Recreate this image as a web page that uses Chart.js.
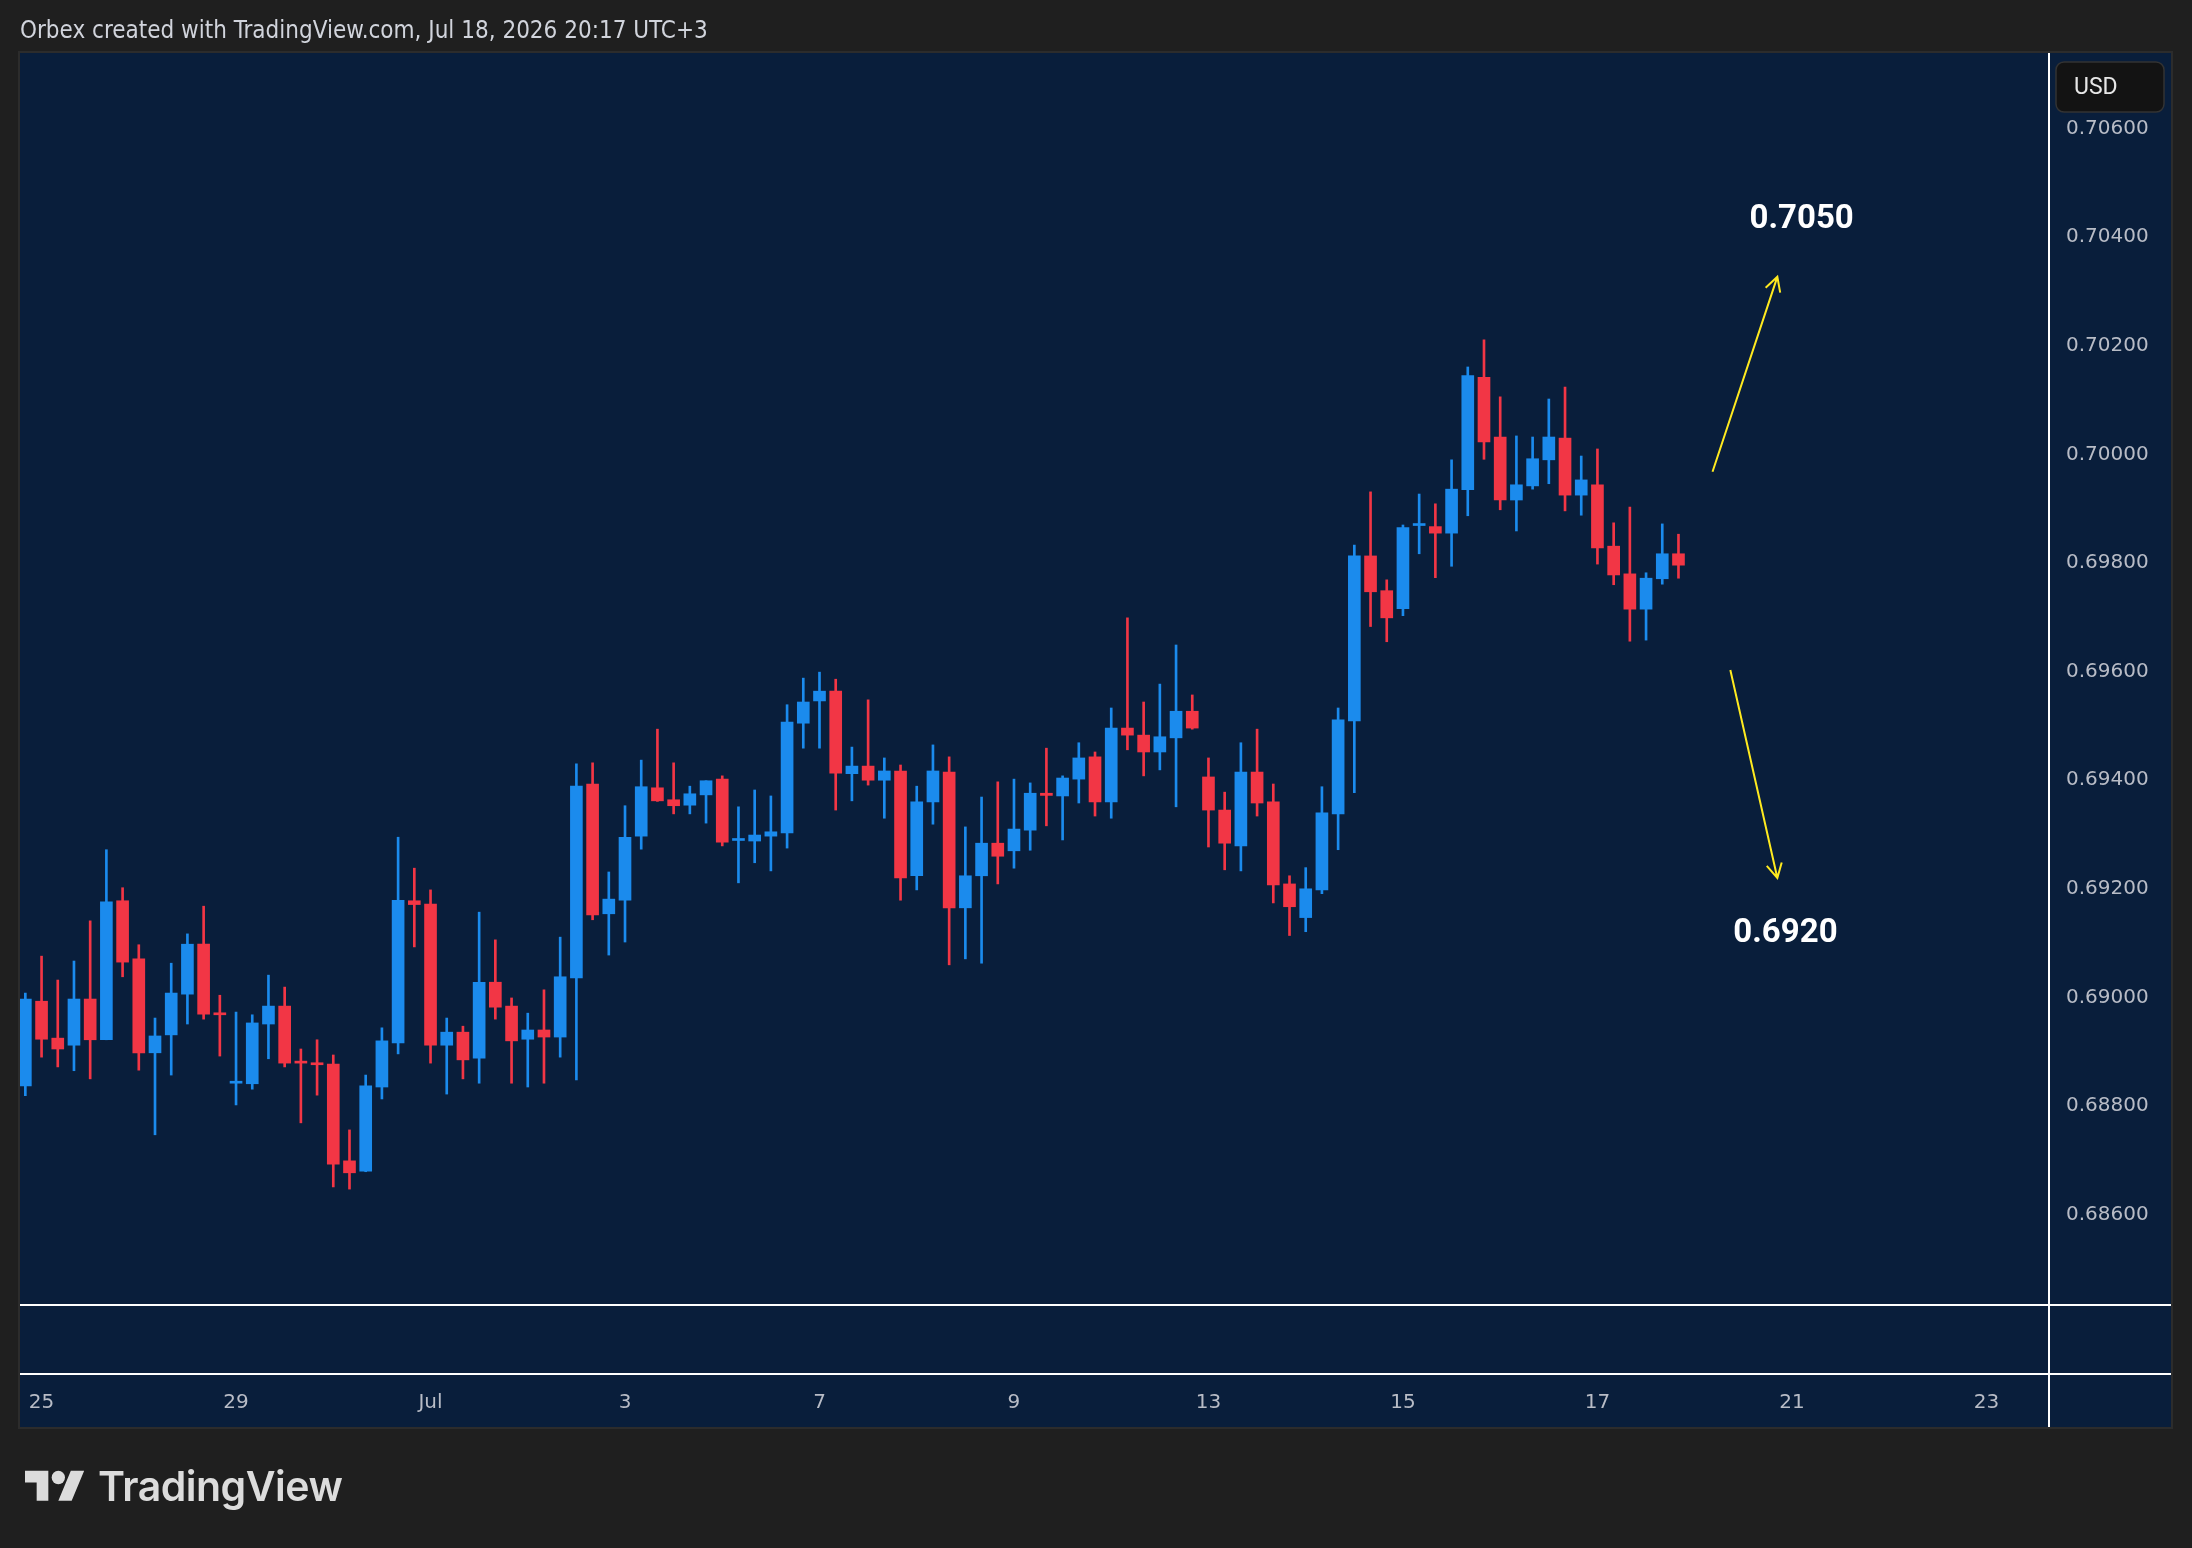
<!DOCTYPE html>
<html>
<head>
<meta charset="utf-8">
<title>4H candles</title>
<script src="https://cdn.jsdelivr.net/npm/chart.js@4.4.1/dist/chart.umd.min.js"></script>
<style>
  html, body { margin: 0; padding: 0; background: #1f1f1f; }
  body { width: 2192px; height: 1548px; position: relative; overflow: hidden; }
  #chart { position: absolute; left: 0; top: 0; z-index: 0; }
  .title { position: absolute; z-index: 1; left: 20px; top: 16px; line-height: 24px;
           font: 24px 'DejaVu Sans Condensed', 'DejaVu Sans', sans-serif; color: #d1d4dc; white-space: nowrap; }
  .logo-icon { position: absolute; z-index: 1; left: 25px; top: 1464px; }
  .logo-text { position: absolute; z-index: 1; left: 98px; top: 1461px; line-height: 41px;
               font: 600 41px Inter, sans-serif; color: #dcdcdc; letter-spacing: -0.5px; }
</style>
</head>
<body>
<canvas id="chart" width="2192" height="1548"></canvas>
<div class="title">Orbex created with TradingView.com, Jul 18, 2026 20:17 UTC+3</div>
<svg class="logo-icon" width="60" height="47" viewBox="0 0 36 28">
  <path fill="#dcdcdc" d="M14 22H7V11H0V4h14v18zM28 22h-8l7.5-18h8L28 22z"/>
  <circle fill="#dcdcdc" cx="20" cy="8" r="4"/>
</svg>
<div class="logo-text">TradingView</div>

<script>
/* 4H candles, index 0 = last bar of Jun 24 */
const OPEN = [
  0.68837, 0.68993, 0.68925, 0.68912, 0.68997, 0.68922, 0.69178, 0.69071, 0.68898, 0.68931,
  0.69006, 0.69098, 0.68971, 0.68842, 0.68841, 0.68951, 0.68984, 0.68881, 0.68879, 0.68877,
  0.68699, 0.68680, 0.68835, 0.68916, 0.69178, 0.69172, 0.68912, 0.68936, 0.68888, 0.69028,
  0.68984, 0.68923, 0.68940, 0.68927, 0.69036, 0.69393, 0.69154, 0.69179, 0.69297, 0.69386,
  0.69364, 0.69354, 0.69373, 0.69402, 0.69289, 0.69288, 0.69297, 0.69303, 0.69505, 0.69546,
  0.69564, 0.69412, 0.69426, 0.69400, 0.69417, 0.69224, 0.69360, 0.69415, 0.69165, 0.69224,
  0.69284, 0.69270, 0.69308, 0.69376, 0.69371, 0.69402, 0.69443, 0.69360, 0.69496, 0.69483,
  0.69452, 0.69478, 0.69527, 0.69406, 0.69345, 0.69279, 0.69415, 0.69360, 0.69209, 0.69147,
  0.69198, 0.69338, 0.69509, 0.69813, 0.69749, 0.69716, 0.69869, 0.69867, 0.69855, 0.69935,
  0.70142, 0.70032, 0.69916, 0.69942, 0.69990, 0.70030, 0.69925, 0.69944, 0.69831, 0.69780,
  0.69715, 0.69771, 0.69817
];
const HIGH = [
  0.69008, 0.69076, 0.69032, 0.69067, 0.69141, 0.69272, 0.69202, 0.69097, 0.68962, 0.69063,
  0.69117, 0.69168, 0.69004, 0.68973, 0.68968, 0.69041, 0.69019, 0.68905, 0.68922, 0.68894,
  0.68756, 0.68857, 0.68944, 0.69295, 0.69238, 0.69198, 0.68962, 0.68947, 0.69157, 0.69106,
  0.68999, 0.68971, 0.69014, 0.69111, 0.69430, 0.69432, 0.69231, 0.69353, 0.69437, 0.69494,
  0.69432, 0.69389, 0.69399, 0.69408, 0.69351, 0.69382, 0.69371, 0.69539, 0.69588, 0.69599,
  0.69586, 0.69461, 0.69548, 0.69441, 0.69428, 0.69389, 0.69465, 0.69443, 0.69314, 0.69369,
  0.69397, 0.69402, 0.69395, 0.69459, 0.69408, 0.69469, 0.69452, 0.69533, 0.69699, 0.69544,
  0.69577, 0.69649, 0.69557, 0.69441, 0.69378, 0.69469, 0.69494, 0.69393, 0.69224, 0.69239,
  0.69388, 0.69533, 0.69833, 0.69931, 0.69769, 0.69870, 0.69927, 0.69909, 0.69990, 0.70161,
  0.70211, 0.70106, 0.70034, 0.70032, 0.70102, 0.70124, 0.69997, 0.70010, 0.69874, 0.69903,
  0.69782, 0.69872, 0.69853
];
const LOW = [
  0.68819, 0.68890, 0.68872, 0.68865, 0.68850, 0.68922, 0.69038, 0.68866, 0.68747, 0.68857,
  0.68951, 0.68960, 0.68892, 0.68802, 0.68831, 0.68887, 0.68872, 0.68769, 0.68820, 0.68651,
  0.68647, 0.68679, 0.68813, 0.68896, 0.69093, 0.68879, 0.68822, 0.68850, 0.68842, 0.68960,
  0.68842, 0.68835, 0.68842, 0.68890, 0.68848, 0.69143, 0.69078, 0.69102, 0.69273, 0.69361,
  0.69338, 0.69338, 0.69321, 0.69279, 0.69211, 0.69248, 0.69233, 0.69275, 0.69459, 0.69459,
  0.69345, 0.69362, 0.69391, 0.69330, 0.69179, 0.69198, 0.69319, 0.69060, 0.69071, 0.69063,
  0.69209, 0.69238, 0.69271, 0.69316, 0.69290, 0.69358, 0.69334, 0.69330, 0.69456, 0.69408,
  0.69419, 0.69351, 0.69494, 0.69277, 0.69235, 0.69233, 0.69334, 0.69174, 0.69114, 0.69121,
  0.69191, 0.69272, 0.69377, 0.69683, 0.69655, 0.69703, 0.69817, 0.69773, 0.69794, 0.69887,
  0.69991, 0.69898, 0.69859, 0.69936, 0.69946, 0.69896, 0.69888, 0.69798, 0.69760, 0.69656,
  0.69658, 0.69761, 0.69772
];
const CLOSE = [
  0.68997, 0.68923, 0.68905, 0.68997, 0.68922, 0.69176, 0.69065, 0.68898, 0.68929, 0.69008,
  0.69098, 0.68969, 0.68968, 0.68844, 0.68953, 0.68984, 0.68879, 0.68879, 0.68876, 0.68693,
  0.68677, 0.68837, 0.68920, 0.69179, 0.69171, 0.68912, 0.68936, 0.68885, 0.69028, 0.68982,
  0.68920, 0.68940, 0.68927, 0.69038, 0.69389, 0.69152, 0.69181, 0.69295, 0.69388, 0.69362,
  0.69353, 0.69375, 0.69399, 0.69286, 0.69291, 0.69299, 0.69305, 0.69507, 0.69544, 0.69564,
  0.69413, 0.69426, 0.69400, 0.69417, 0.69220, 0.69360, 0.69417, 0.69165, 0.69224, 0.69284,
  0.69260, 0.69310, 0.69376, 0.69372, 0.69404, 0.69441, 0.69360, 0.69496, 0.69483, 0.69452,
  0.69480, 0.69527, 0.69496, 0.69345, 0.69284, 0.69415, 0.69358, 0.69207, 0.69167, 0.69200,
  0.69340, 0.69511, 0.69813, 0.69747, 0.69699, 0.69865, 0.69871, 0.69855, 0.69936, 0.70145,
  0.70023, 0.69916, 0.69944, 0.69992, 0.70032, 0.69925, 0.69953, 0.69828, 0.69778, 0.69715,
  0.69772, 0.69817, 0.69796
];

// time axis: bar index of the first bar of each labelled day
const DAY_TICKS  = [1, 13, 25, 37, 49, 61, 73, 85, 97, 109, 121];
const DAY_LABELS = ['25', '29', 'Jul', '3', '7', '9', '13', '15', '17', '21', '23'];
const PRICE_TICKS = [0.686, 0.688, 0.690, 0.692, 0.694, 0.696, 0.698, 0.700, 0.702, 0.704, 0.706];

// drawings, in [bar index, price]
const UP_ARROW   = [[104.1, 0.69968], [108.1, 0.70327]];
const DOWN_ARROW = [[105.2, 0.69603], [108.1, 0.69220]];
const LEVEL_TEXT = ['0.7050', '0.6920'];
const LEVEL_POS  = [[109.6, 0.70433], [108.6, 0.69117]];

const UP = '#1b8bed', DOWN = '#f23645';
const NAVY = '#091e3b';
const AXIS_TXT = '#b8bcc6';
const PANE = { left: 20, top: 53, right: 2171, bottom: 1427 };

const colors = OPEN.map((o, i) => CLOSE[i] >= o ? UP : DOWN);

const paneBg = {
  id: 'paneBg',
  beforeDraw(chart) {
    const ctx = chart.ctx;
    ctx.save();
    ctx.fillStyle = '#1f1f1f';
    ctx.fillRect(0, 0, chart.width, chart.height);
    ctx.fillStyle = NAVY;
    ctx.fillRect(PANE.left, PANE.top, PANE.right - PANE.left, PANE.bottom - PANE.top);
    ctx.strokeStyle = '#2c2c2c';
    ctx.lineWidth = 2;
    ctx.strokeRect(PANE.left - 1, PANE.top - 1, PANE.right - PANE.left + 2, PANE.bottom - PANE.top + 2);
    ctx.restore();
  }
};

function drawArrow(ctx, x1, y1, x2, y2) {
  const a = Math.atan2(y2 - y1, x2 - x1), h = 16;
  ctx.beginPath();
  ctx.moveTo(x1, y1); ctx.lineTo(x2, y2);
  ctx.moveTo(x2 - h * Math.cos(a - 0.5), y2 - h * Math.sin(a - 0.5));
  ctx.lineTo(x2, y2);
  ctx.lineTo(x2 - h * Math.cos(a + 0.5), y2 - h * Math.sin(a + 0.5));
  ctx.stroke();
}

const drawings = {
  id: 'drawings',
  afterDatasetsDraw(chart) {
    const { ctx, scales: { x, y } } = chart;
    const px = p => [x.getPixelForValue(p[0]), y.getPixelForValue(p[1])];
    ctx.save();
    ctx.strokeStyle = '#ffea1f';
    ctx.lineWidth = 2;
    [UP_ARROW, DOWN_ARROW].forEach(a => {
      const [x1, y1] = px(a[0]), [x2, y2] = px(a[1]);
      drawArrow(ctx, x1, y1, x2, y2);
    });
    ctx.fillStyle = '#ffffff';
    ctx.font = 'bold 33px Roboto, sans-serif';
    ctx.textAlign = 'center';
    ctx.textBaseline = 'middle';
    LEVEL_TEXT.forEach((t, i) => {
      const [tx, ty] = px(LEVEL_POS[i]);
      ctx.fillText(t, tx, ty);
    });
    ctx.restore();
  }
};

const frame = {
  id: 'frame',
  afterDraw(chart) {
    const ctx = chart.ctx, ca = chart.chartArea;
    ctx.save();
    ctx.strokeStyle = '#ffffff';
    ctx.lineWidth = 2;
    ctx.beginPath();
    ctx.moveTo(ca.right + 1, PANE.top); ctx.lineTo(ca.right + 1, PANE.bottom);
    ctx.moveTo(PANE.left, ca.bottom + 1); ctx.lineTo(PANE.right, ca.bottom + 1);
    ctx.moveTo(PANE.left, ca.bottom + 70); ctx.lineTo(PANE.right, ca.bottom + 70);
    ctx.stroke();
    // currency button on the price scale
    ctx.fillStyle = '#131313';
    ctx.strokeStyle = '#333333';
    ctx.lineWidth = 1.5;
    ctx.beginPath();
    ctx.roundRect(2056, 62, 108, 50, 8);
    ctx.fill();
    ctx.stroke();
    ctx.fillStyle = '#e6e6e6';
    ctx.font = '23px Roboto, sans-serif';
    ctx.textAlign = 'left';
    ctx.textBaseline = 'middle';
    ctx.fillText('USD', 2074, 88);
    ctx.restore();
  }
};

new Chart(document.getElementById('chart'), {
  type: 'bar',
  data: {
    datasets: [
      { label: 'body', data: OPEN.map((o, i) => ({ x: i, y: [o, CLOSE[i]] })),
        backgroundColor: colors, barThickness: 12, minBarLength: 2, grouped: false, order: 0 },
      { label: 'wick', data: OPEN.map((o, i) => ({ x: i, y: [LOW[i], HIGH[i]] })),
        backgroundColor: colors, barThickness: 2, grouped: false, order: 1 }
    ]
  },
  options: {
    responsive: false,
    animation: false,
    devicePixelRatio: 1,
    layout: { padding: { left: PANE.left, top: PANE.top, right: 2192 - PANE.right, bottom: 1548 - PANE.bottom } },
    plugins: { legend: { display: false }, tooltip: { enabled: false } },
    scales: {
      x: {
        type: 'linear', min: -0.33, max: 124.8, offset: false,
        grid: { display: false, drawTicks: false }, border: { display: false },
        afterBuildTicks: ax => { ax.ticks = DAY_TICKS.map(v => ({ value: v })); },
        // labels sit below the empty lower pane; keep the side padding off
        afterFit: ax => { ax.height = 123; ax.paddingLeft = 0; ax.paddingRight = 0; },
        ticks: { color: AXIS_TXT, font: { family: 'DejaVu Sans', size: 20 }, padding: 87,
                 maxRotation: 0, autoSkip: false,
                 callback: v => DAY_LABELS[DAY_TICKS.indexOf(v)] }
      },
      y: {
        type: 'linear', position: 'right', min: 0.684354, max: 0.707392,
        grid: { display: false, drawTicks: false }, border: { display: false },
        afterBuildTicks: ax => { ax.ticks = PRICE_TICKS.map(v => ({ value: v })); },
        afterFit: ax => { ax.width = 123; },
        ticks: { color: AXIS_TXT, font: { family: 'DejaVu Sans', size: 20 }, padding: 18,
                 callback: v => v.toFixed(5) }
      }
    }
  },
  plugins: [paneBg, drawings, frame]
});
</script>
</body>
</html>
